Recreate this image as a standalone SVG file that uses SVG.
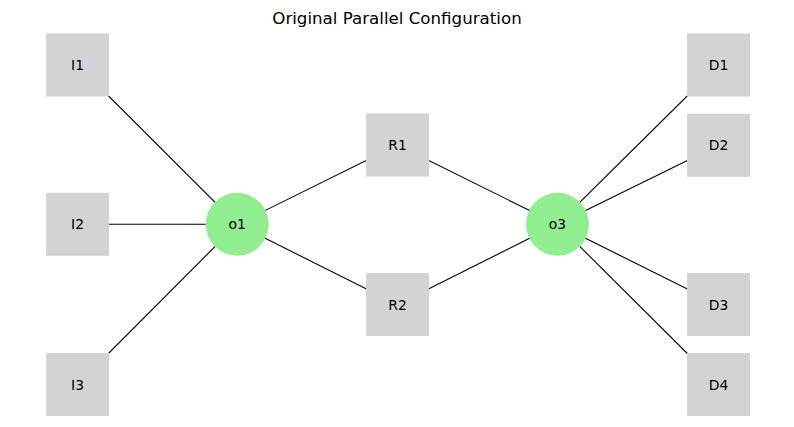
<svg xmlns="http://www.w3.org/2000/svg" width="794" height="427" viewBox="0 0 794 427">
<style>
.sq{fill:#d3d3d3}
.ci{fill:#90ee90}
.lb{font-family:"DejaVu Sans",sans-serif;font-size:13.9px;fill:#000;text-anchor:middle;dominant-baseline:central}
.ttl{font-family:"DejaVu Sans",sans-serif;font-size:16.67px;fill:#000;text-anchor:middle}
#edges line{stroke:#000;stroke-width:1.1}
</style>
<rect width="794" height="427" fill="#fff"/>
<text class="ttl" x="397" y="24">Original Parallel Configuration</text>
<g id="edges">
<line x1="77.5" y1="65" x2="237.2" y2="224.3"/>
<line x1="77.5" y1="224.3" x2="237.2" y2="224.3"/>
<line x1="77.5" y1="384.5" x2="237.2" y2="224.3"/>
<line x1="237.2" y1="224.3" x2="397.5" y2="145"/>
<line x1="237.2" y1="224.3" x2="397.5" y2="304.5"/>
<line x1="397.5" y1="145" x2="557.5" y2="224.3"/>
<line x1="397.5" y1="304.5" x2="557.5" y2="224.3"/>
<line x1="557.5" y1="224.3" x2="718.5" y2="65"/>
<line x1="557.5" y1="224.3" x2="718.5" y2="145.3"/>
<line x1="557.5" y1="224.3" x2="718.5" y2="304.5"/>
<line x1="557.5" y1="224.3" x2="718.5" y2="384.5"/>
</g>
<g id="I1"><rect class="sq" x="46" y="33.5" width="63" height="63"/><text class="lb" x="77.5" y="65">I1</text></g>
<g id="I2"><rect class="sq" x="46" y="192.8" width="63" height="63"/><text class="lb" x="77.5" y="224.3">I2</text></g>
<g id="I3"><rect class="sq" x="46" y="353" width="63" height="63"/><text class="lb" x="77.5" y="384.5">I3</text></g>
<g id="o1"><circle class="ci" cx="237.2" cy="224.3" r="31.5"/><text class="lb" x="237.2" y="224.3">o1</text></g>
<g id="R1"><rect class="sq" x="366" y="113.5" width="63" height="63"/><text class="lb" x="397.5" y="145">R1</text></g>
<g id="R2"><rect class="sq" x="366" y="273" width="63" height="63"/><text class="lb" x="397.5" y="304.5">R2</text></g>
<g id="o3"><circle class="ci" cx="557.5" cy="224.3" r="31.5"/><text class="lb" x="557.5" y="224.3">o3</text></g>
<g id="D1"><rect class="sq" x="687" y="33.5" width="63" height="63"/><text class="lb" x="718.5" y="65">D1</text></g>
<g id="D2"><rect class="sq" x="687" y="113.8" width="63" height="63"/><text class="lb" x="718.5" y="145.3">D2</text></g>
<g id="D3"><rect class="sq" x="687" y="273" width="63" height="63"/><text class="lb" x="718.5" y="304.5">D3</text></g>
<g id="D4"><rect class="sq" x="687" y="353" width="63" height="63"/><text class="lb" x="718.5" y="384.5">D4</text></g>
</svg>
